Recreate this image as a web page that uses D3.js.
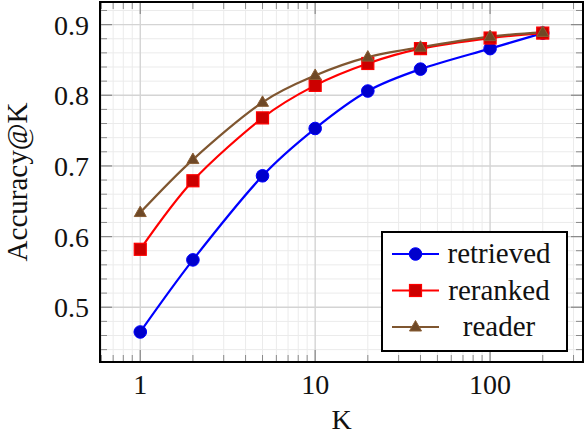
<!DOCTYPE html>
<html>
<head>
<meta charset="utf-8">
<script src="https://cdn.jsdelivr.net/npm/d3@7"></script>
<style>
  html, body { margin: 0; padding: 0; background: #fff; }
  svg { display: block; }
  svg text { font-family: "Liberation Serif", "DejaVu Serif", serif; }
</style>
</head>
<body>
<svg id="chart" width="584" height="434"></svg>
<script>
// ---- data ----
const kValues = [1, 2, 5, 10, 20, 40, 100, 200];
const retrieved = [0.465, 0.567, 0.686, 0.753, 0.806, 0.837, 0.866, 0.888];
const reranked  = [0.582, 0.679, 0.768, 0.814, 0.845, 0.866, 0.881, 0.888];
const reader    = [0.634, 0.709, 0.790, 0.828, 0.854, 0.868, 0.883, 0.889];
const seriesNames = ["retrieved", "reranked", "reader"];
const xTickValues = [1, 10, 100];
const yTickValues = [0.5, 0.6, 0.7, 0.8, 0.9];
const xLabel = "K";
const yLabel = "Accuracy@K";

// ---- layout ----
const FONT = "'Liberation Serif', 'DejaVu Serif', serif";
const pLeft = 100, pRight = 583, pTop = 2, pBottom = 362;
const svg = d3.select("#chart").attr("font-family", FONT);

const x = d3.scaleLog().domain([0.5886, 339.8]).range([pLeft, pRight]);
const y = d3.scaleLinear().domain([0.4225, 0.932]).range([pBottom, pTop]);

// grid values
const xMinor = [];
[0.1, 1, 10, 100].forEach(d => { for (let m = 2; m <= 9; m++) { const v = d * m; if (v > x.domain()[0] && v < x.domain()[1]) xMinor.push(v); } });
const yMinor = d3.range(0.44, 0.93, 0.02).map(v => +v.toFixed(2)).filter(v => !yTickValues.some(t => Math.abs(t - v) < 1e-9));

const g = svg.append("g");
// minor grid
g.selectAll(".xmg").data(xMinor).join("line")
  .attr("x1", d => x(d)).attr("x2", d => x(d)).attr("y1", pTop).attr("y2", pBottom)
  .attr("stroke", "#ebebeb").attr("stroke-width", 1);
g.selectAll(".ymg").data(yMinor).join("line")
  .attr("x1", pLeft).attr("x2", pRight).attr("y1", d => y(d)).attr("y2", d => y(d))
  .attr("stroke", "#ebebeb").attr("stroke-width", 1);
// major grid
g.selectAll(".xMg").data(xTickValues).join("line")
  .attr("x1", d => x(d)).attr("x2", d => x(d)).attr("y1", pTop).attr("y2", pBottom)
  .attr("stroke", "#d4d4d4").attr("stroke-width", 1.4);
g.selectAll(".yMg").data(yTickValues).join("line")
  .attr("x1", pLeft).attr("x2", pRight).attr("y1", d => y(d)).attr("y2", d => y(d))
  .attr("stroke", "#d4d4d4").attr("stroke-width", 1.4);

// inner ticks on all sides
const tickCol = "#8a8a8a";
function vt(vals, len, w) {
  [pBottom, pTop].forEach((yy, i) => {
    g.selectAll(null).data(vals).join("line")
      .attr("x1", d => x(d)).attr("x2", d => x(d))
      .attr("y1", yy).attr("y2", i === 0 ? yy - len : yy + len)
      .attr("stroke", tickCol).attr("stroke-width", w);
  });
}
function ht(vals, len, w) {
  [pLeft, pRight].forEach((xx, i) => {
    g.selectAll(null).data(vals).join("line")
      .attr("y1", d => y(d)).attr("y2", d => y(d))
      .attr("x1", xx).attr("x2", i === 0 ? xx + len : xx - len)
      .attr("stroke", tickCol).attr("stroke-width", w);
  });
}
vt(xMinor, 7, 1); ht(yMinor, 7, 1);
vt(xTickValues, 12, 1.2); ht(yTickValues, 12, 1.2);

// frame
svg.append("rect").attr("x", pLeft).attr("y", pTop).attr("width", pRight - pLeft).attr("height", pBottom - pTop)
  .attr("fill", "none").attr("stroke", "#000").attr("stroke-width", 2);

// tick labels
svg.selectAll(".xl").data(xTickValues).join("text")
  .attr("x", d => x(d)).attr("y", 394).attr("text-anchor", "middle").attr("font-family", FONT)
  .attr("font-size", 28).attr("fill", "#111").text(d => d3.format("d")(d));
svg.selectAll(".yl").data(yTickValues).join("text")
  .attr("x", 89).attr("y", d => y(d) + 10).attr("text-anchor", "end").attr("font-family", FONT)
  .attr("font-size", 28).attr("fill", "#111").text(d => d3.format(".1f")(d));

// axis labels
svg.append("text").attr("x", (pLeft + pRight) / 2).attr("y", 429).attr("text-anchor", "middle")
  .attr("font-family", FONT).attr("font-size", 28).attr("fill", "#111").text(xLabel);
svg.append("text").attr("transform", "translate(27,182) rotate(-90)").attr("text-anchor", "middle")
  .attr("font-family", FONT).attr("font-size", 29).attr("fill", "#111").text(yLabel);

// series
const styles = [
  { line: "#0000ff", fill: "#0000cc", stroke: "#0000ff", mark: "circle" },
  { line: "#ff0000", fill: "#cc0000", stroke: "#ff0000", mark: "square" },
  { line: "#7f5630", fill: "#6e4826", stroke: "#8a5e35", mark: "triangle" }
];
const seriesData = [retrieved, reranked, reader];

function drawMark(sel, style) {
  if (style.mark === "circle") {
    sel.append("circle").attr("r", 6.3).attr("fill", style.fill).attr("stroke", style.stroke).attr("stroke-width", 1);
  } else if (style.mark === "square") {
    sel.append("rect").attr("x", -6).attr("y", -6).attr("width", 12).attr("height", 12)
      .attr("fill", style.fill).attr("stroke", style.stroke).attr("stroke-width", 1.2);
  } else {
    sel.append("path").attr("d", "M0,-6.5 L6,4 L-6,4 Z")
      .attr("fill", style.fill).attr("stroke", style.stroke).attr("stroke-width", 1);
  }
}

const line = d3.line().x(d => x(d[0])).y(d => y(d[1])).curve(d3.curveCardinal.tension(0.08));
seriesData.forEach((vals, i) => {
  const pts = kValues.map((k, j) => [k, vals[j]]);
  svg.append("path").attr("d", line(pts)).attr("fill", "none")
    .attr("stroke", styles[i].line).attr("stroke-width", 2.2);
});
seriesData.forEach((vals, i) => {
  kValues.forEach((k, j) => {
    const m = svg.append("g").attr("transform", `translate(${x(k)},${y(vals[j])})`);
    drawMark(m, styles[i]);
  });
});

// legend
const lg = svg.append("g");
lg.append("rect").attr("x", 382).attr("y", 232).attr("width", 185).attr("height", 119)
  .attr("fill", "#fff").attr("stroke", "#000").attr("stroke-width", 2);
const rowY = d3.scalePoint().domain(seriesNames).range([254, 327]);
seriesNames.forEach((name, i) => {
  const yy = rowY(name);
  lg.append("line").attr("x1", 392).attr("x2", 439).attr("y1", yy).attr("y2", yy)
    .attr("stroke", styles[i].line).attr("stroke-width", 2.2);
  drawMark(lg.append("g").attr("transform", `translate(415.5,${yy})`), styles[i]);
  lg.append("text").attr("x", 499).attr("y", yy + 9).attr("text-anchor", "middle").attr("font-family", FONT)
    .attr("font-size", 29).attr("fill", "#111").text(name);
});
</script>
</body>
</html>
